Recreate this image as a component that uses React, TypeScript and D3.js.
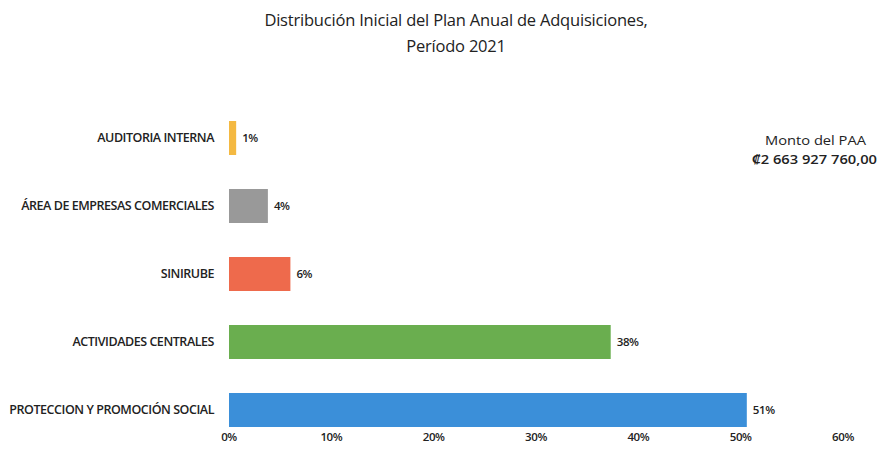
import React from "react";
import * as d3 from "d3";

const categories = [
  "AUDITORIA INTERNA",
  "ÁREA DE EMPRESAS COMERCIALES",
  "SINIRUBE",
  "ACTIVIDADES CENTRALES",
  "PROTECCION Y PROMOCIÓN SOCIAL",
];
const values = [0.7, 3.8, 6.0, 37.3, 50.6];
const valueLabels = ["1%", "4%", "6%", "38%", "51%"];
const colors = ["#F4B942", "#999999", "#EE6A4C", "#6AAE4F", "#3B8FD9"];
const ticks = [0, 10, 20, 30, 40, 50, 60];
const titleLines = ["Distribución Inicial del Plan Anual de Adquisiciones,", "Período 2021"];
const noteLines = ["Monto del PAA", "₡2 663 927 760,00"];

const W = 878;
const H = 470;
const FONT = "'Open Sans', 'Noto Sans', sans-serif";

export default function App() {
  const x = d3.scaleLinear().domain([0, 60]).range([229, 843]);
  const y = d3.scaleBand().domain(categories).range([104, 444]).paddingInner(0.5).paddingOuter(0.25);
  const bh = y.bandwidth();
  return (
    <svg width={W} height={H} style={{ position: "absolute", left: 0, top: 0, background: "#fff" }} fontFamily={FONT}>
      {titleLines.map((t, i) => (
        <text key={t} x={456} y={26 + i * 26} textAnchor="middle" fontSize={16.5} fill="#222" letterSpacing={-0.2}>
          {t}
        </text>
      ))}
      {categories.map((c, i) => {
        const yc = (y(c) as number) + bh / 2;
        return (
          <g key={c}>
            <text x={214} y={yc} dy="0.35em" textAnchor="end" fontSize={12.5} fontWeight={600} fill="#222" letterSpacing={-0.45}>
              {c}
            </text>
            <rect x={x(0)} y={y(c)} width={x(values[i]) - x(0)} height={bh} fill={colors[i]} />
            <text x={x(values[i]) + 6} y={yc} dy="0.35em" fontSize={11.5} fontWeight={600} fill="#222" letterSpacing={-0.4}>
              {valueLabels[i]}
            </text>
          </g>
        );
      })}
      {ticks.map((t) => (
        <text key={t} x={x(t)} y={441} textAnchor="middle" fontSize={11.5} fontWeight={600} fill="#222" letterSpacing={-0.4}>
          {t + "%"}
        </text>
      ))}
      <text x={765} y={145} fontSize={13} fill="#222" textLength={101} lengthAdjust="spacingAndGlyphs">
        {noteLines[0]}
      </text>
      <text x={752} y={164} fontSize={13} fontWeight={600} fill="#222" textLength={125} lengthAdjust="spacingAndGlyphs">
        {noteLines[1]}
      </text>
    </svg>
  );
}
